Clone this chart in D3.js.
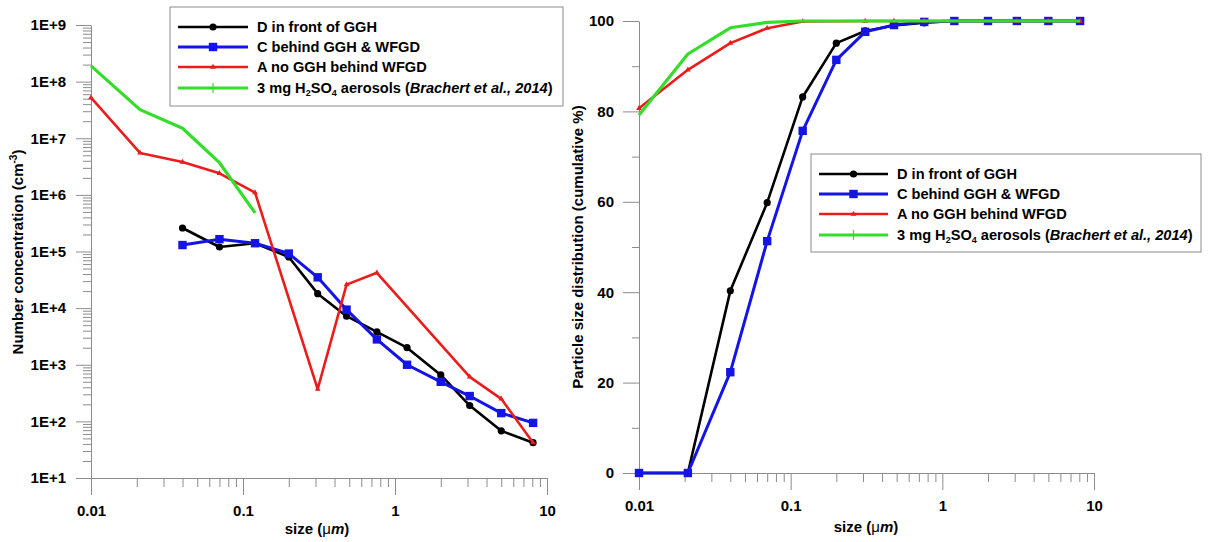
<!DOCTYPE html>
<html><head><meta charset="utf-8">
<script src="https://cdn.jsdelivr.net/npm/d3@7"></script>
<style>
body{margin:0;background:#fff}
svg{display:block}
text{font-family:Arial,"Liberation Sans",sans-serif;font-weight:bold;fill:#000}
</style>
</head><body>
<svg id="c" width="1208" height="542"></svg>
<script>
// ---------- data ----------
const sizes = [0.01, 0.021, 0.04, 0.07, 0.12, 0.2, 0.31, 0.48, 0.76, 1.2, 2.0, 3.1, 5.0, 8.1];
const seriesNames = ["D in front of GGH", "C behind GGH & WFGD", "A no GGH behind WFGD", "3 mg H2SO4 aerosols (Brachert et al., 2014)"];
const seriesColors = ["#000000", "#1414e6", "#ea1c1c", "#33dd2a"];
// number concentration (cm^-3), null = no measurement at that size
const numD   = [null, null, 2.6e5, 1.2e5, 1.4e5, 8.0e4, 1.8e4, 7.2e3, 3.8e3, 2.0e3, 660, 190, 68, 42];
const numC   = [null, null, 1.3e5, 1.65e5, 1.4e5, 9.2e4, 3.5e4, 9.4e3, 2.8e3, 1.0e3, 500, 280, 140, 94];
const numA   = [5.2e7, 5.5e6, 3.8e6, 2.4e6, 1.1e6, null, 370, 2.6e4, 4.2e4, null, null, 610, 250, 42];
const numRef = [1.9e8, 3.2e7, 1.5e7, 3.7e6, 4.8e5, null, null, null, null, null, null, null, null, null];
// cumulative particle size distribution (%)
const cumD   = [0, 0, 40.3, 59.8, 83.2, 95.1, 97.8, 99.0, 99.6, 100, 100, 100, 100, 100];
const cumC   = [0, 0, 22.3, 51.3, 75.7, 91.4, 97.6, 99.1, 99.8, 100, 100, 100, 100, 100];
const cumA   = [80.7, 89.2, 95.1, 98.4, 99.9, null, 100, 100, 100, null, null, 100, 100, 100];
const cumRef = [79.2, 92.7, 98.5, 99.7, 100, 100, 100, 100, 100, 100, 100, 100, 100, 100];
const xMajorTicks = [0.01, 0.1, 1, 10];
const yLeftMajorTicks = [1e1, 1e2, 1e3, 1e4, 1e5, 1e6, 1e7, 1e8, 1e9];
const yLeftLabels = ["1E+1","1E+2","1E+3","1E+4","1E+5","1E+6","1E+7","1E+8","1E+9"];
const yRightMajorTicks = [0, 20, 40, 60, 80, 100];
const yRightMinorTicks = [10, 30, 50, 70, 90];

// ---------- setup ----------
const svg = d3.select('#c');
const AX = '#8c8c8c';

const xL = d3.scaleLog().domain([0.01, 10]).range([91, 547]);
const yL = d3.scaleLog().domain([10, 1e9]).range([478, 25]);
const xR = d3.scaleLog().domain([0.01, 10]).range([639, 1094]);
const yR = d3.scaleLinear().domain([0, 100]).range([473, 21]);

function logMinors(lo, hi) {
  const out = [];
  for (let e = Math.round(Math.log10(lo)); e < Math.round(Math.log10(hi)); e++)
    for (let m = 2; m <= 9; m++) out.push(m * Math.pow(10, e));
  return out;
}

function styleAxis(g, fs) {
  g.attr('font-family', null).attr('font-size', null);
  g.selectAll('.domain').attr('stroke', AX).attr('stroke-width', 1);
  g.selectAll('.tick line').attr('stroke', AX).attr('stroke-width', 1);
  g.selectAll('.tick text').style('font-size', fs + 'px').attr('fill', '#000');
}

function drawXAxis(x, y0) {
  const g1 = svg.append('g').attr('transform', `translate(0,${y0})`)
    .call(d3.axisBottom(x).tickValues(logMinors(0.01, 10)).tickFormat('').tickSize(9).tickSizeOuter(0));
  g1.select('.domain').remove();
  styleAxis(g1, 15);
  const g2 = svg.append('g').attr('transform', `translate(0,${y0})`)
    .call(d3.axisBottom(x).tickValues(xMajorTicks).tickFormat(d => String(d)).tickSize(17).tickPadding(10).tickSizeOuter(0));
  styleAxis(g2, 15);
}

// ---------- left panel axes ----------
{
  const gm = svg.append('g').attr('transform', 'translate(91,0)')
    .call(d3.axisLeft(yL).tickValues(logMinors(10, 1e9)).tickFormat('').tickSize(8).tickSizeOuter(0));
  gm.select('.domain').remove();
  styleAxis(gm, 15);
  const g = svg.append('g').attr('transform', 'translate(91,0)')
    .call(d3.axisLeft(yL).tickValues(yLeftMajorTicks).tickFormat((d, i) => yLeftLabels[i]).tickSize(15).tickPadding(10).tickSizeOuter(0));
  styleAxis(g, 15);
  drawXAxis(xL, 478);
}
// ---------- right panel axes ----------
{
  const gm = svg.append('g').attr('transform', 'translate(639,0)')
    .call(d3.axisLeft(yR).tickValues(yRightMinorTicks).tickFormat('').tickSize(7).tickSizeOuter(0));
  gm.select('.domain').remove();
  styleAxis(gm, 15);
  const g = svg.append('g').attr('transform', 'translate(639,0)')
    .call(d3.axisLeft(yR).tickValues(yRightMajorTicks).tickFormat(d => String(d)).tickSize(16).tickPadding(9).tickSizeOuter(0));
  styleAxis(g, 15);
  drawXAxis(xR, 473);
}

// ---------- axis titles ----------
function sizeTitle(cx, by) {
  const t = svg.append('text').attr('x', cx).attr('y', by).attr('text-anchor', 'middle').style('font-size', '15px');
  t.append('tspan').text('size (');
  t.append('tspan').style('font-weight', 'normal').text('\u03bc');
  t.append('tspan').style('font-style', 'italic').text('m');
  t.append('tspan').text(')');
}
sizeTitle(317, 534);
sizeTitle(866, 532);
{
  const t = svg.append('text').attr('transform', 'translate(23,252) rotate(-90)')
    .attr('text-anchor', 'middle').style('font-size', '15px');
  t.append('tspan').text('Number concentration (cm');
  t.append('tspan').attr('dy', -6).style('font-size', '10px').text('-3');
  t.append('tspan').attr('dy', 6).text(')');
}
svg.append('text').attr('transform', 'translate(583,247) rotate(-90)')
  .attr('text-anchor', 'middle').style('font-size', '15px')
  .text('Particle size distribution (cumulative %)');

// ---------- series ----------
const leftSeries  = [numD, numC, numA, numRef];
const rightSeries = [cumD, cumC, cumA, cumRef];
const widths = [2.6, 3, 2.6, 3.2];

function marker(g, i, cx, cy, legend) {
  const c = seriesColors[i];
  if (i === 0) g.append('circle').attr('cx', cx).attr('cy', cy).attr('r', 3.6).attr('fill', c);
  else if (i === 1) g.append('rect').attr('x', cx - 4.2).attr('y', cy - 4.2).attr('width', 8.4).attr('height', 8.4).attr('fill', c);
  else if (i === 2) g.append('path').attr('transform', `translate(${cx},${cy})`)
      .attr('d', d3.symbol().type(d3.symbolTriangle).size(14)()).attr('fill', c);
  else if (legend) g.append('line').attr('x1', cx).attr('x2', cx).attr('y1', cy - 5).attr('y2', cy + 5)
      .attr('stroke', c).attr('stroke-width', 1.2);
}

function drawSeries(x, y, list) {
  list.forEach((vals, i) => {
    const pts = sizes.map((s, k) => [s, vals[k]]).filter(p => p[1] !== null);
    const line = d3.line().x(p => x(p[0])).y(p => y(p[1]));
    svg.append('path').datum(pts).attr('d', line).attr('fill', 'none')
      .attr('stroke', seriesColors[i]).attr('stroke-width', widths[i]).attr('stroke-linejoin', 'round');
    const g = svg.append('g');
    pts.forEach(p => marker(g, i, x(p[0]), y(p[1]), false));
  });
}
drawSeries(xL, yL, leftSeries);
drawSeries(xR, yR, rightSeries);

// ---------- legends ----------
function legend(bx, by, bw, bh, lx0, lx1, tx, rows) {
  svg.append('rect').attr('x', bx).attr('y', by).attr('width', bw).attr('height', bh)
    .attr('fill', '#fff').attr('stroke', '#8c8c8c').attr('stroke-width', 1);
  rows.forEach((ry, i) => {
    svg.append('line').attr('x1', lx0).attr('x2', lx1).attr('y1', ry).attr('y2', ry)
      .attr('stroke', seriesColors[i]).attr('stroke-width', widths[i]);
    marker(svg, i, (lx0 + lx1) / 2, ry, true);
    const t = svg.append('text').attr('x', tx).attr('y', ry + 5).style('font-size', '14.6px');
    if (i < 3) t.text(seriesNames[i]);
    else {
      t.append('tspan').text('3 mg H');
      t.append('tspan').attr('dy', 3).style('font-size', '9px').text('2');
      t.append('tspan').attr('dy', -3).text('SO');
      t.append('tspan').attr('dy', 3).style('font-size', '9px').text('4');
      t.append('tspan').attr('dy', -3).text(' aerosols (');
      t.append('tspan').style('font-style', 'italic').text('Brachert et al., 2014');
      t.append('tspan').text(')');
    }
  });
}
legend(170, 7, 393, 99, 178, 248, 257, [27, 47, 67, 88]);
legend(811, 154, 390, 98, 819, 888, 897, [174, 194, 214, 235]);
</script>
</body></html>
